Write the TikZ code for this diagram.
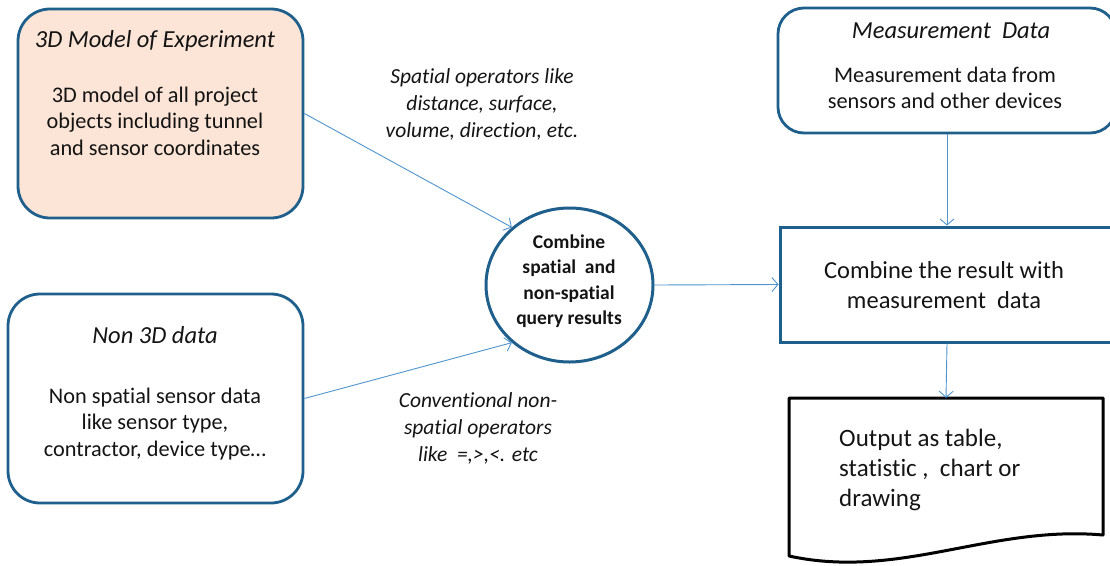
\documentclass[tikz,border=0pt]{standalone}
\usepackage{fontspec}
\setmainfont{Carlito}[Ligatures=NoCommon]
\usetikzlibrary{arrows.meta,shapes.geometric}
\definecolor{bordblue}{RGB}{31,95,140}
\definecolor{arrblue}{RGB}{79,148,205}
\definecolor{peach}{RGB}{252,229,214}
\definecolor{txt}{RGB}{20,20,20}
\begin{document}
\begin{tikzpicture}[x=1pt,y=-1pt,
  rbox/.style={draw=bordblue,line width=2.8pt,rounded corners=32pt,inner sep=0pt},
  sbox/.style={draw=bordblue,line width=3pt,inner sep=0pt},
  conn/.style={draw=arrblue,line width=0.9pt,-{Straight Barb[length=6pt,width=14pt,line width=0.9pt]}},
  ttl/.style={font=\fontsize{24.5}{26}\selectfont\itshape,text=txt,inner sep=0pt},
  body/.style={font=\fontsize{22.3}{26.5}\selectfont,text=txt,align=center,inner sep=0pt},
  lbl/.style={font=\fontsize{21.5}{27}\selectfont\itshape,text=txt,align=center,inner sep=0pt}]
\useasboundingbox (0,0) rectangle (1110,565);
\clip (0,0) rectangle (1110,565);
% boxes
\node[rbox,fill=peach,minimum width=285pt,minimum height=209pt] (m3d) at (160.5,113.5) {};
\node[rbox,minimum width=295pt,minimum height=209pt] (n3d) at (155.5,398.5) {};
\node[rbox,rounded corners=26pt,minimum width=338pt,minimum height=125pt] (meas) at (947,70.5) {};
\node[sbox,minimum width=334pt,minimum height=115pt] (comb) at (947,284.5) {};
\node[ellipse,draw=bordblue,line width=3pt,minimum width=167pt,minimum height=154pt,inner sep=0pt] (circ) at (569.5,285) {};
\node[minimum width=314pt,minimum height=150pt,inner sep=0pt] (out) at (946,473) {};
\draw[black,line width=3pt,line join=round] (789,398) -- (1103,398) -- (1103,535)
  .. controls (990,525) and (900,580) .. (789,556) -- cycle;
% texts
\node[ttl] (m3dt) at (155,41) {3D Model of Experiment};
\node[body] (m3db) at (155,121) {3D model of all project\\objects including tunnel\\and sensor coordinates};
\node[ttl] (n3dt) at (155,335) {Non 3D data};
\node[body] (n3db) at (155,424) {Non spatial sensor data\\like sensor type,\\contractor, device type…};
\node[ttl] (meast) at (951,31) {Measurement\ \ Data};
\node[body] (measb) at (945,88) {Measurement data from\\sensors and other devices};
\node[body,font=\fontsize{24.5}{30}\selectfont] (combt) at (944,285) {Combine the result with\\measurement\ \ data};
\node[body,font=\fontsize{19.5}{25.5}\selectfont\bfseries] (circt) at (569,281) {Combine\\spatial\ \ and\\non-spatial\\query results};
\node[body,font=\fontsize{25}{30}\selectfont,align=left,anchor=west] (outt) at (839,470) {Output as table,\\statistic ,\ \ chart or\\drawing};
\node[lbl] (l1) at (482,104) {Spatial operators like\\distance, surface,\\volume, direction, etc.};
\node[lbl] (l2) at (478,428) {Conventional non-\\spatial operators\\like\ \ =,>,<. etc};
% connectors
\draw[conn] (m3d.east) -- (circ.135);
\draw[conn] (n3d.east) -- (circ.225);
\draw[conn] (circ.east) -- (comb.west);
\draw[conn] (meas.south) -- (comb.north);
\draw[conn] (comb.south) -- (out.north);
\end{tikzpicture}
\end{document}
